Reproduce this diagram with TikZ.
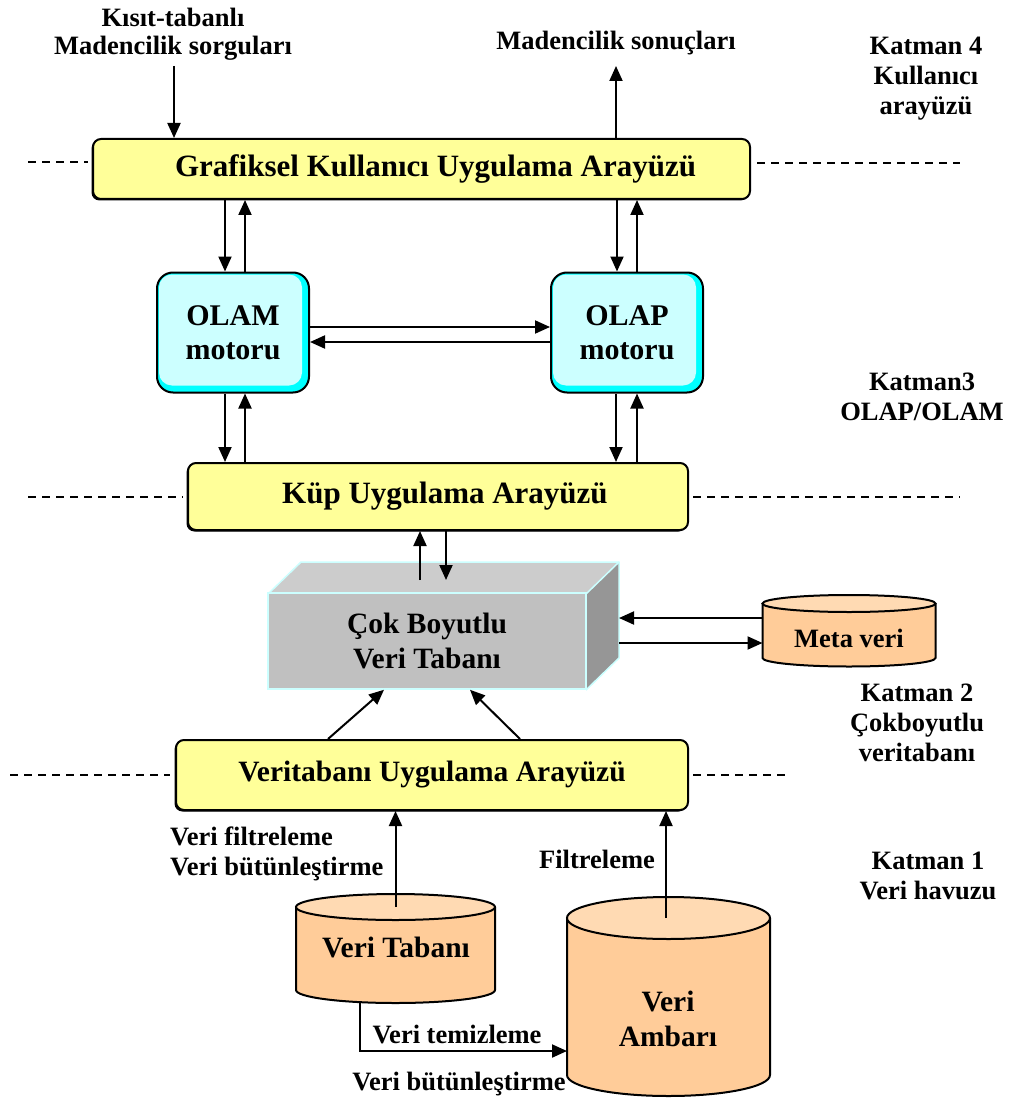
\documentclass[tikz,border=0pt]{standalone}
\usepackage{fontspec}
\setmainfont{Liberation Serif}
\usetikzlibrary{arrows.meta,shadows}

\definecolor{boxyellow}{HTML}{FFFF99}
\definecolor{engfill}{HTML}{CCFFFF}
\definecolor{engband}{HTML}{00FFFF}
\definecolor{cylbody}{HTML}{FFCC99}
\definecolor{cyltop}{HTML}{FFDAB3}
\definecolor{cubefront}{HTML}{C0C0C0}
\definecolor{cubetop}{HTML}{CCCCCC}
\definecolor{cubeside}{HTML}{969696}
\definecolor{cubeedge}{HTML}{CCFFFF}

\begin{document}
\begin{tikzpicture}[x=1pt,y=-1pt,
  font=\bfseries\fontsize{26.5}{30}\selectfont,
  arr/.style={line width=2pt,-{Triangle[length=15pt,width=13pt]}},
  layer/.style={line width=1.8pt,dash pattern=on 8pt off 6pt},
  apibox/.style={draw,line width=2pt,fill=boxyellow,rounded corners=8pt,inner sep=0pt,
    font=\bfseries\fontsize{31}{34}\selectfont,
    drop shadow={shadow xshift=-1.5pt,shadow yshift=-1.5pt,fill=black,opacity=1}},
  engine/.style={draw,line width=2pt,fill=engband,rounded corners=16pt,align=center,inner sep=0pt,
    minimum width=152pt,minimum height=120pt,
    font=\bfseries\fontsize{30}{34}\selectfont,
    path picture={\fill[engfill,rounded corners=13pt]
      ([shift={(2pt,-2pt)}]path picture bounding box.north west) rectangle
      ([shift={(-7pt,7pt)}]path picture bounding box.south east);}},
  cubeface/.style={draw=cubeedge,line width=1.5pt,fill=cubefront,align=center,inner sep=0pt,
    font=\bfseries\fontsize{29.5}{35}\selectfont},
  cyl/.style={draw=black,line width=2pt},
  cyltext/.style={align=center,inner sep=0pt,font=\bfseries\fontsize{29.5}{35}\selectfont},
  lbl/.style={align=center,inner sep=0pt},
]
\useasboundingbox (0,0) rectangle (1014,1099);
\fill[white] (0,0) rectangle (1014,1099);

% ---- layer separators
\draw[layer] (28,162) -- (88,162);
\draw[layer] (757,163) -- (960,163);
\draw[layer] (28,497) -- (183,497);
\draw[layer] (693,497) -- (960,497);
\draw[layer] (10,775) -- (170,775);
\draw[layer] (693,775) -- (790,775);

% ---- interface boxes and engines
\node[apibox,minimum width=657pt,minimum height=60pt] (gui) at (421.5,169) {\hspace*{28pt}Grafiksel Kullanıcı Uygulama Arayüzü};
\node[engine] (olam) at (233,332.5) {OLAM\\motoru};
\node[engine] (olap) at (627,332.5) {OLAP\\motoru};
\node[apibox,minimum width=500pt,minimum height=67pt] (kup) at (438,496.5) {\hspace*{14pt}Küp Uygulama Arayüzü};
\node[apibox,minimum width=512pt,minimum height=70pt,font=\bfseries\fontsize{29.5}{34}\selectfont] (vua) at (432,775) {Veritabanı Uygulama Arayüzü};

% ---- multidimensional database block
\fill[cubetop] (268,594) -- (301,562) -- (619,562) -- (586,594) -- cycle;
\fill[cubeside] (586,594) -- (619,562) -- (619,658) -- (586,690) -- cycle;
\node[cubeface,minimum width=318pt,minimum height=96pt] (mdb) at (427,641) {Çok Boyutlu\\Veri Tabanı};
\draw[cubeedge,line width=1.5pt,line join=round] (268,594) -- (301,562) -- (619,562) -- (619,658) -- (586,690);
\draw[cubeedge,line width=1.5pt] (586,594) -- (619,562);
\coordinate (cubetopc) at (433,580);
\coordinate (cuberight) at (619,610);

% ---- cylinders
% Meta veri
\fill[cylbody] (762.5,603.5) -- (762.5,658) arc[start angle=180,end angle=0,x radius=86.5,y radius=8.5] -- (935.5,603.5) -- cycle;
\draw[cyl] (762.5,603.5) -- (762.5,658) arc[start angle=180,end angle=0,x radius=86.5,y radius=8.5] -- (935.5,603.5);
\filldraw[cyl,fill=cyltop] (849,603.5) ellipse[x radius=86.5,y radius=8.5];
\node[lbl,anchor=base] (meta) at (849,647) {Meta veri};
\coordinate (metaleft) at (762.5,630);

% Veri Tabanı
\fill[cylbody] (296,907) -- (296,990) arc[start angle=180,end angle=0,x radius=99.5,y radius=13] -- (495,907) -- cycle;
\draw[cyl] (296,907) -- (296,990) arc[start angle=180,end angle=0,x radius=99.5,y radius=13] -- (495,907);
\filldraw[cyl,fill=cyltop] (395.5,907) ellipse[x radius=99.5,y radius=13];
\node[cyltext,anchor=base] (vt) at (396,957) {Veri Tabanı};
\coordinate (vttop) at (395.5,907);
\coordinate (vtbot) at (360,1002);

% Veri Ambarı
\fill[cylbody] (567,918) -- (567,1075) arc[start angle=180,end angle=0,x radius=101.5,y radius=21] -- (770,918) -- cycle;
\draw[cyl] (567,918) -- (567,1075) arc[start angle=180,end angle=0,x radius=101.5,y radius=21] -- (770,918);
\filldraw[cyl,fill=cyltop] (668.5,918) ellipse[x radius=101.5,y radius=21];
\node[cyltext,anchor=north] (va) at (668,991) {Veri\\Ambarı};
\coordinate (vatop) at (666,918);
\coordinate (valeft) at (567,1051);

% ---- labels
\node[lbl,anchor=base] (qry1) at (173,27) {Kısıt-tabanlı};
\node[lbl,anchor=base] (qry) at (173,55) {Madencilik sorguları};
\node[lbl,anchor=base] (res) at (616,50) {Madencilik sonuçları};
\node[lbl,anchor=north] (k4) at (926,37) {Katman 4\\Kullanıcı\\arayüzü};
\node[lbl,anchor=north] (k3) at (922,373) {Katman3\\OLAP/OLAM};
\node[lbl,anchor=north] (k2) at (917,684) {Katman 2\\Çokboyutlu\\veritabanı};
\node[lbl,anchor=north] (k1) at (928,852) {Katman 1\\Veri havuzu};
\node[lbl,anchor=north west,align=left] (filt) at (170,827) {Veri filtreleme\\Veri bütünleştirme};
\node[lbl,anchor=base] (filt2) at (597,868) {Filtreleme};
\node[lbl,anchor=base] (clean) at (457,1043) {Veri temizleme};
\node[lbl,anchor=base] (integ) at (459,1090) {Veri bütünleştirme};

% ---- connectors
\draw[arr] (174,66) -- (174,0 |- gui.north);
\draw[arr] (gui.north -| res.base) -- (res.base |- 0,66);

\draw[arr] (gui.south -| 225,0) -- (olam.north -| 225,0);
\draw[arr] (olam.north -| 245,0) -- (gui.south -| 245,0);
\draw[arr] (gui.south -| 617,0) -- (olap.north -| 617,0);
\draw[arr] (olap.north -| 637,0) -- (gui.south -| 637,0);

\draw[arr] (olam.east |- 0,327) -- (olap.west |- 0,327);
\draw[arr] (olap.west |- 0,342) -- (olam.east |- 0,342);

\draw[arr] (olam.south -| 225,0) -- (kup.north -| 225,0);
\draw[arr] (kup.north -| 245,0) -- (olam.south -| 245,0);
\draw[arr] (olap.south -| 616,0) -- (kup.north -| 616,0);
\draw[arr] (kup.north -| 637,0) -- (olap.south -| 637,0);

\draw[arr] (cubetopc -| 420,0) -- (kup.south -| 420,0);
\draw[arr] (kup.south -| 446,0) -- (cubetopc -| 446,0);

\draw[arr] (metaleft |- 0,618) -- (cuberight |- 0,618);
\draw[arr] (cuberight |- 0,643) -- (metaleft |- 0,643);

\draw[arr] (vua.north -| 328,0) -- (mdb.south -| 384,0);
\draw[arr] (vua.north -| 520,0) -- (mdb.south -| 470,0);

\draw[arr] (vttop) -- (vttop |- vua.south);
\draw[arr] (vatop) -- (vatop |- vua.south);
\draw[arr] (vtbot) |- (valeft);
\end{tikzpicture}
\end{document}
